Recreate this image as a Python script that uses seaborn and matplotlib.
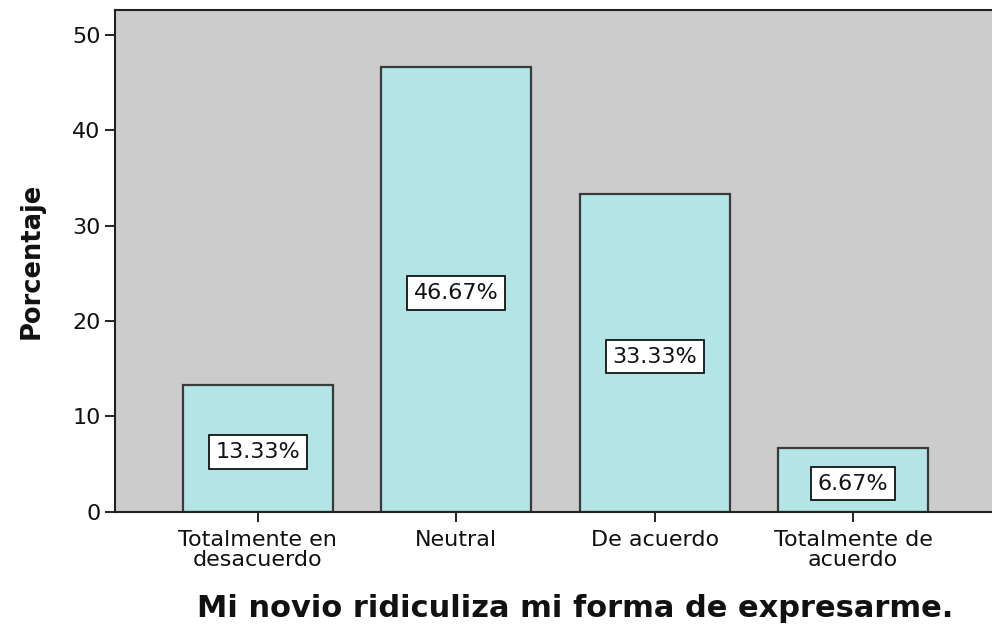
import matplotlib
matplotlib.use("Agg")
import matplotlib.pyplot as plt
import seaborn as sns
import pandas as pd

categorias = ["Totalmente en\ndesacuerdo", "Neutral", "De acuerdo", "Totalmente de\nacuerdo"]
porcentajes = [13.33, 46.67, 33.33, 6.67]

sns.set_style("white")
plt.rcParams["font.family"] = ["DejaVu Sans"]

df = pd.DataFrame({"categoria": categorias, "porcentaje": porcentajes})

fig = plt.figure(figsize=(9.92, 6.28), dpi=100)
ax = fig.add_axes([0.116, 0.185, 0.9, 0.799])
ax.set_facecolor("#cccccc")

sns.barplot(
    data=df,
    x="categoria",
    y="porcentaje",
    color="#b4e5e6",
    saturation=1,
    width=0.755,
    edgecolor="#3a3a3a",
    linewidth=1.6,
    ax=ax
)

# etiquetas de porcentaje en cajas blancas
for i, v in enumerate(porcentajes):
    ax.text(
        i, v / 2 - 0.4, f"{v:.2f}%",
        ha="center", va="center", fontsize=16, color="#111111",
        bbox=dict(boxstyle="square,pad=0.3", facecolor="white", edgecolor="black", linewidth=1.2)
    )

ax.set_ylim(0, 52.6)
ax.set_xlim(-0.72, 3.78)
ax.set_yticks([0, 10, 20, 30, 40, 50])

for side in ["left", "top", "bottom", "right"]:
    ax.spines[side].set_color("#222222")
    ax.spines[side].set_linewidth(1.5)

ax.tick_params(axis="both", direction="out", length=7, width=1.4, colors="#222222",
               labelcolor="#111111", labelsize=16, bottom=True, left=True)
ax.tick_params(axis="x", pad=6)
for lbl in ax.get_xticklabels():
    lbl.set_linespacing(1.0)

ax.set_xlabel("Mi novio ridiculiza mi forma de expresarme.", fontsize=22, fontweight="bold",
              color="#111111")
ax.xaxis.set_label_coords(0.515, -0.163)
ax.set_ylabel("Porcentaje", fontsize=18.5, fontweight="bold", labelpad=20, color="#111111")

plt.savefig("out.png", dpi=100)
